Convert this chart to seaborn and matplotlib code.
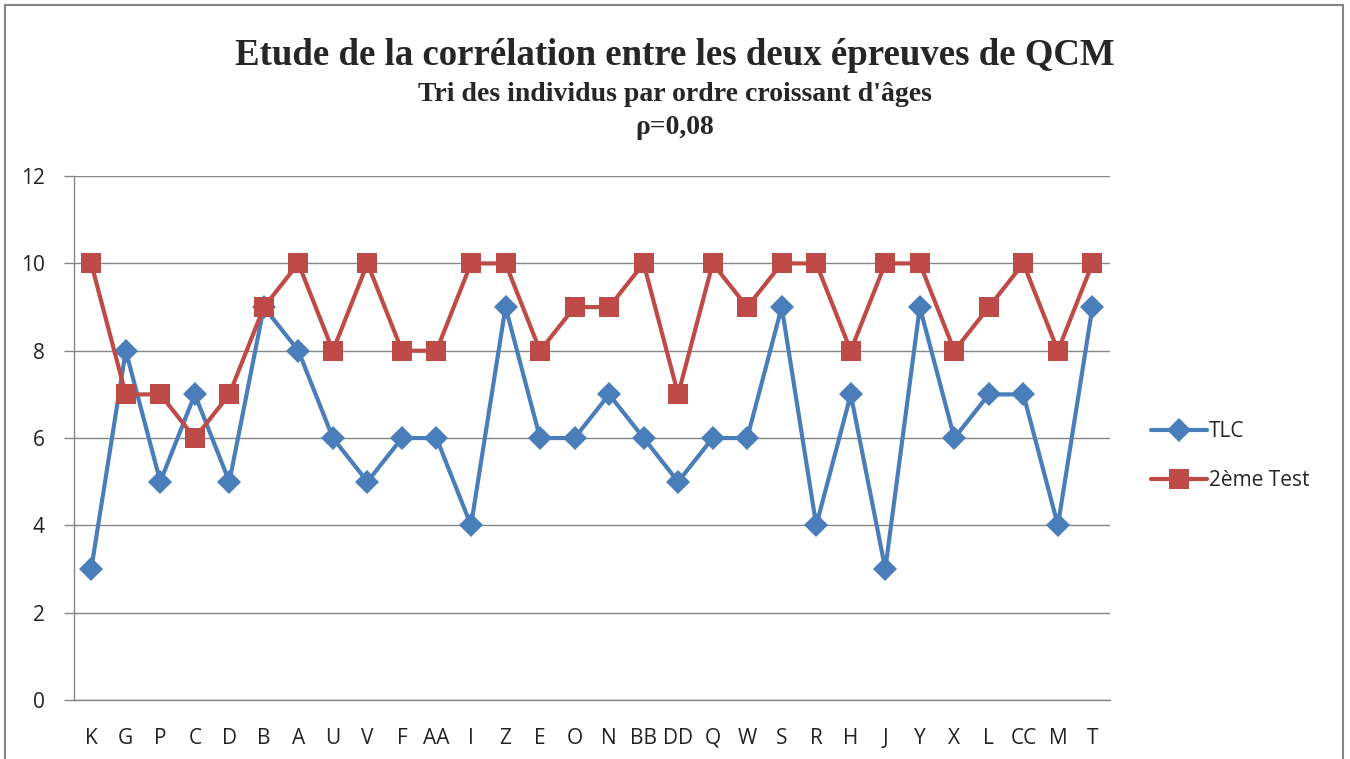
import matplotlib
matplotlib.use("Agg")
import matplotlib.pyplot as plt
import seaborn as sns
import pandas as pd
import numpy as np
from matplotlib.patches import Rectangle

# data
individus = ['K', 'G', 'P', 'C', 'D', 'B', 'A', 'U', 'V', 'F', 'AA', 'I', 'Z', 'E', 'O',
             'N', 'BB', 'DD', 'Q', 'W', 'S', 'R', 'H', 'J', 'Y', 'X', 'L', 'CC', 'M', 'T']
tlc = [3, 8, 5, 7, 5, 9, 8, 6, 5, 6, 6, 4, 9, 6, 6, 7, 6, 5, 6, 6, 9, 4, 7, 3, 9, 6, 7, 7, 4, 9]
test2 = [10, 7, 7, 6, 7, 9, 10, 8, 10, 8, 8, 10, 10, 8, 9, 9, 10, 7, 10, 9, 10, 10, 8, 10, 10, 8, 9, 10, 8, 10]

df = pd.DataFrame({'pos': np.arange(len(individus)), 'TLC': tlc, '2ème Test': test2})

sns.set_style('white')
plt.rcParams['font.family'] = ['Open Sans', 'DejaVu Sans']

fig = plt.figure(figsize=(13.5, 7.59), dpi=100)
ax = fig.add_axes([0.0548, 0.0777, 0.7672, 0.6903])

sns.lineplot(data=df, x='pos', y='TLC', ax=ax, color='#4A7EBB', linewidth=3,
             marker='D', markersize=12.5, markeredgewidth=0, label='TLC')
sns.lineplot(data=df, x='pos', y='2ème Test', ax=ax, color='#BE4B48', linewidth=3,
             marker='s', markersize=14, markeredgewidth=0, label='2ème Test')

ax.set_xlim(-0.5, len(individus) - 0.5)
ax.set_ylim(0, 12)
ax.set_yticks(range(0, 13, 2))
ax.set_xticks(df['pos'])
ax.set_xticklabels(individus)
ax.set_xticks(np.arange(-0.5, len(individus), 1), minor=True)
ax.tick_params(axis='x', which='major', length=0, labelsize=15, pad=20, colors='#222222')
ax.tick_params(axis='x', which='minor', length=7, color='#868686', width=1, direction='out')
ax.tick_params(axis='y', length=7, color='#868686', width=1, direction='out', labelsize=15,
               colors='#222222', left=True, pad=14)
ax.set_xlabel('')
ax.set_ylabel('')
ax.yaxis.grid(True, color='#868686', linewidth=1)
ax.set_axisbelow(True)
for s in ['top', 'right']:
    ax.spines[s].set_visible(False)
for s in ['left', 'bottom']:
    ax.spines[s].set_color('#868686')
    ax.spines[s].set_linewidth(1)

handles, labels = ax.get_legend_handles_labels()
ax.legend_.remove()
fig.legend(handles, labels, loc='center left', bbox_to_anchor=(0.839, 0.399),
           frameon=False, fontsize=15, handlelength=2.65, labelspacing=1.35, handletextpad=0.1)

serif = ['Liberation Serif', 'DejaVu Serif']
fig.text(0.5, 0.927, "Etude de la corrélation entre les deux épreuves de QCM",
         ha='center', va='center', fontsize=26.5, fontweight='bold', family=serif)
fig.text(0.5, 0.875, "Tri des individus par ordre croissant d'âges",
         ha='center', va='center', fontsize=20, fontweight='bold', family=serif)
fig.text(0.5, 0.832, "ρ=0,08",
         ha='center', va='center', fontsize=20, fontweight='bold', family=serif)

fig.patches.append(Rectangle((0.004, -0.01), 0.991, 1.003, transform=fig.transFigure,
                             fill=False, edgecolor='#868686', linewidth=1.5))

plt.savefig('out.png', dpi=100)
plt.close()
